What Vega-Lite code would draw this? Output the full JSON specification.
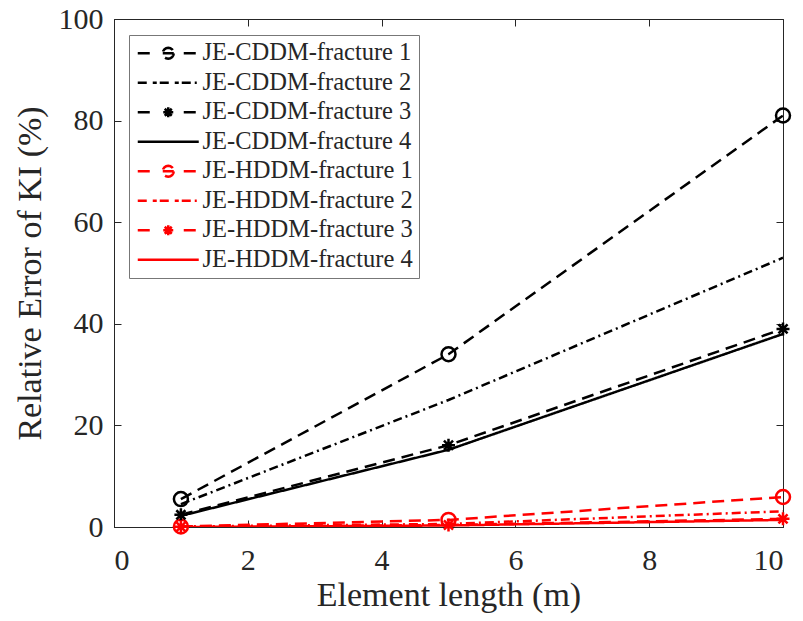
{
  "$schema": "https://vega.github.io/schema/vega-lite/v6.json",
  "autosize": {"type": "none"},
  "width": 669,
  "height": 508,
  "padding": {"left": 114, "top": 19, "right": 20, "bottom": 94},
  "background": "white",
  "config": {
    "font": "Liberation Serif",
    "view": {"stroke": "#262626", "strokeWidth": 1},
    "axis": {
      "domainColor": "#262626",
      "tickColor": "#262626",
      "labelColor": "#262626",
      "titleColor": "#262626",
      "labelFont": "Liberation Serif",
      "titleFont": "Liberation Serif",
      "labelFontSize": 30,
      "titleFontSize": 34,
      "titleFontWeight": "normal",
      "grid": false,
      "tickSize": -7,
      "tickWidth": 1
    }
  },
  "datasets": {
    "pts": [
      {"x": 1, "y": 5.5, "series": "JE-CDDM-fracture 1"},
      {"x": 5, "y": 34, "series": "JE-CDDM-fracture 1"},
      {"x": 10, "y": 81, "series": "JE-CDDM-fracture 1"},
      {"x": 1, "y": 4.5, "series": "JE-CDDM-fracture 2"},
      {"x": 5, "y": 25, "series": "JE-CDDM-fracture 2"},
      {"x": 10, "y": 53, "series": "JE-CDDM-fracture 2"},
      {"x": 1, "y": 2.4, "series": "JE-CDDM-fracture 3"},
      {"x": 5, "y": 16.1, "series": "JE-CDDM-fracture 3"},
      {"x": 10, "y": 39, "series": "JE-CDDM-fracture 3"},
      {"x": 1, "y": 2.2, "series": "JE-CDDM-fracture 4"},
      {"x": 5, "y": 15.2, "series": "JE-CDDM-fracture 4"},
      {"x": 10, "y": 38, "series": "JE-CDDM-fracture 4"},
      {"x": 1, "y": 0.1, "series": "JE-HDDM-fracture 1"},
      {"x": 5, "y": 1.4, "series": "JE-HDDM-fracture 1"},
      {"x": 10, "y": 5.9, "series": "JE-HDDM-fracture 1"},
      {"x": 1, "y": 0.1, "series": "JE-HDDM-fracture 2"},
      {"x": 5, "y": 0.6, "series": "JE-HDDM-fracture 2"},
      {"x": 10, "y": 3.1, "series": "JE-HDDM-fracture 2"},
      {"x": 1, "y": 0.05, "series": "JE-HDDM-fracture 3"},
      {"x": 5, "y": 0.4, "series": "JE-HDDM-fracture 3"},
      {"x": 10, "y": 1.6, "series": "JE-HDDM-fracture 3"},
      {"x": 1, "y": 0, "series": "JE-HDDM-fracture 4"},
      {"x": 5, "y": 0.3, "series": "JE-HDDM-fracture 4"},
      {"x": 10, "y": 1.4, "series": "JE-HDDM-fracture 4"}
    ]
  },
  "data": {"name": "pts"},
  "layer": [
    {
      "mark": {"type": "line", "strokeWidth": 2.5, "clip": true},
      "encoding": {
        "x": {"field": "x", "type": "quantitative", "scale": {"domain": [0, 10], "nice": false, "zero": false},
              "axis": {"orient": "bottom", "values": [0, 2, 4, 6, 8, 10], "title": "Element length (m)", "labelFont": "Liberation Serif", "titleFont": "Liberation Serif", "labelPadding": 25, "titlePadding": 3}},
        "y": {"field": "y", "type": "quantitative", "scale": {"domain": [0, 100], "nice": false},
              "axis": {"orient": "left", "values": [0, 20, 40, 60, 80, 100], "title": "Relative Error of KI (%)", "labelFont": "Liberation Serif", "titleFont": "Liberation Serif", "labelPadding": 18, "titlePadding": 11}},
        "color": {"field": "series", "type": "nominal",
          "scale": {"domain": ["JE-CDDM-fracture 1", "JE-CDDM-fracture 2", "JE-CDDM-fracture 3", "JE-CDDM-fracture 4", "JE-HDDM-fracture 1", "JE-HDDM-fracture 2", "JE-HDDM-fracture 3", "JE-HDDM-fracture 4"],
                    "range": ["#000000", "#000000", "#000000", "#000000", "#ff0000", "#ff0000", "#ff0000", "#ff0000"]},
          "legend": {
            "title": null,
            "orient": "none",
            "legendX": 15,
            "legendY": 16,
            "padding": 6,
            "strokeColor": "#777777",
            "fillColor": "white",
            "labelFont": "Liberation Serif",
            "labelFontSize": 24.5,
            "labelColor": "#262626",
            "labelLimit": 400,
            "rowPadding": 4.5,
            "symbolOffset": 21,
            "labelOffset": 22,
            "symbolSize": 100,
            "symbolStrokeWidth": 2.5,
            "encode": {
              "symbols": {
                "update": {
                  "shape": {"signal": "indexof(datum.value,'1')>=0 ? 'M-6.1,0L-3.5,0M-1.1,0L1.1,0M1.1,0L1.016,0.421L0.778,0.778L0.421,1.016L0,1.1L-0.421,1.016L-0.778,0.778L-1.016,0.421L-1.1,0L-1.016,-0.421L-0.778,-0.778L-0.421,-1.016L0,-1.1L0.421,-1.016L0.778,-0.778L1.016,-0.421Z M3.1,0L6.1,0' : (indexof(datum.value,'2')>=0 ? 'M-6.1,0L-3.7,0M-3.1,0L-2.3,0M-1.7,0L0.7,0M1.3,0L2.1,0M2.7,0L6.1,0' : (indexof(datum.value,'3')>=0 ? 'M-6.1,0L-3.5,0M-1,0L1,0M0,-1L0,1M-0.7,-0.7L0.7,0.7M-0.7,0.7L0.7,-0.7M3.1,0L6.1,0' : 'M-6.1,0L6.1,0'))"},
                  "stroke": {"signal": "indexof(datum.value,'HDDM')>=0 ? '#ff0000' : '#000000'"},
                  "fill": {"value": "transparent"},
                  "strokeDash": {"value": []},
                  "strokeWidth": {"value": 2.5},
                  "size": {"value": 100},
                  "opacity": {"value": 1}
                }
              }
            }
          }},
        "strokeDash": {"field": "series", "type": "nominal",
          "scale": {"domain": ["JE-CDDM-fracture 1", "JE-CDDM-fracture 2", "JE-CDDM-fracture 3", "JE-CDDM-fracture 4", "JE-HDDM-fracture 1", "JE-HDDM-fracture 2", "JE-HDDM-fracture 3", "JE-HDDM-fracture 4"],
                    "range": [[12, 7], [9, 4, 2, 4], [12, 7], [1, 0], [12, 7], [9, 4, 2, 4], [12, 7], [1, 0]]}}
      }
    },
    {
      "transform": [{"filter": "indexof(datum.series,'fracture 1')>=0"}],
      "mark": {"type": "point", "shape": "circle", "filled": false, "size": 196, "strokeWidth": 2.5, "opacity": 1},
      "encoding": {
        "x": {"field": "x", "type": "quantitative", "axis": null},
        "y": {"field": "y", "type": "quantitative", "axis": null},
        "color": {"field": "series", "type": "nominal"}
      }
    },
    {
      "transform": [{"filter": "indexof(datum.series,'fracture 3')>=0"}],
      "mark": {"type": "point", "shape": "M-1,0L1,0M0,-1L0,1M-0.7,-0.7L0.7,0.7M-0.7,0.7L0.7,-0.7", "filled": false, "size": 169, "strokeWidth": 2.5, "opacity": 1},
      "encoding": {
        "x": {"field": "x", "type": "quantitative", "axis": null},
        "y": {"field": "y", "type": "quantitative", "axis": null},
        "color": {"field": "series", "type": "nominal"}
      }
    },
    {
      "mark": {"type": "point", "opacity": 0},
      "encoding": {
        "x": {"field": "x", "type": "quantitative", "axis": {"orient": "top", "values": [0, 2, 4, 6, 8, 10], "labels": false, "title": null, "domain": false}},
        "y": {"field": "y", "type": "quantitative", "axis": {"orient": "right", "values": [0, 20, 40, 60, 80, 100], "labels": false, "title": null, "domain": false}}
      }
    }
  ],
  "resolve": {"axis": {"x": "independent", "y": "independent"}}
}
